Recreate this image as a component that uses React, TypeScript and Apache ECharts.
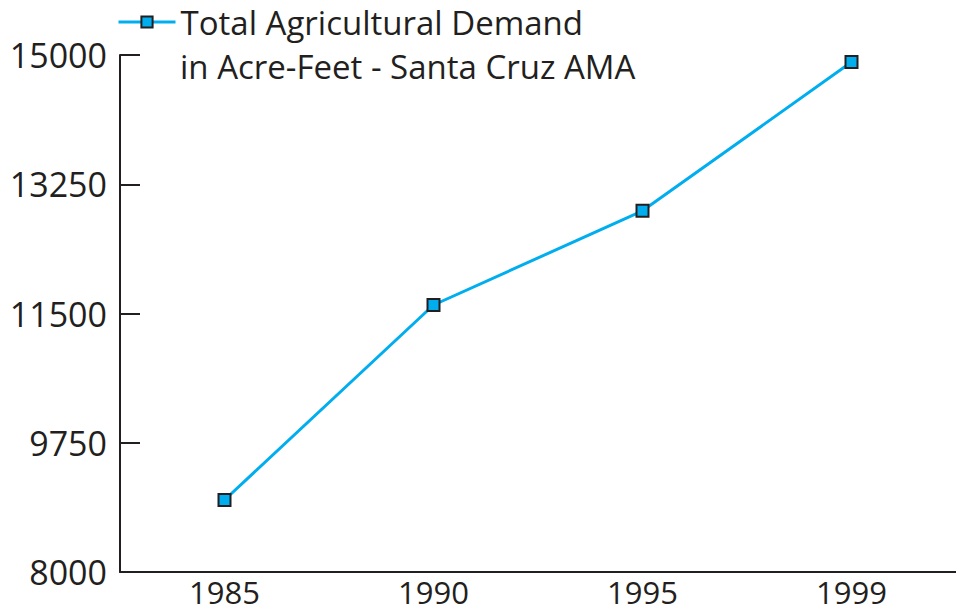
import React, { useEffect, useRef } from "react";
import * as echarts from "echarts";

const categories = ["1985", "1990", "1995", "1999"];
const demandValues = [8975, 11615, 12890, 14905];
const yTicks = [8000, 9750, 11500, 13250, 15000];
const seriesName = "Total Agricultural Demand";
const legendSecondLine = "in Acre-Feet - Santa Cruz AMA";

const FONT = "'Open Sans', sans-serif";
const TEXT_COLOR = "#231f20";
const LINE_COLOR = "#00aeef";

export default function App() {
  const ref = useRef<HTMLDivElement>(null);
  useEffect(() => {
    if (!ref.current) return;
    const chart = echarts.init(ref.current, undefined, { renderer: "svg" });
    chart.setOption({
      animation: false,
      backgroundColor: "#ffffff",
      textStyle: { fontFamily: FONT },
      legend: {
        left: 117,
        top: 3,
        padding: 0,
        itemWidth: 57,
        itemHeight: 14,
        itemGap: 5,
        data: [seriesName],
        lineStyle: { width: 3, color: LINE_COLOR },
        itemStyle: { color: LINE_COLOR, borderColor: TEXT_COLOR, borderWidth: 2 },
        textStyle: { fontFamily: FONT, fontSize: 33, color: TEXT_COLOR, lineHeight: 38 },
      },
      graphic: [
        {
          type: "text",
          left: 180,
          top: 50,
          style: {
            text: legendSecondLine,
            font: `33px ${FONT}`,
            fill: TEXT_COLOR,
          },
        },
      ],
      grid: { left: 120, width: 842, top: 55, bottom: 41, containLabel: false },
      xAxis: {
        type: "category",
        data: categories,
        boundaryGap: true,
        axisLine: { lineStyle: { color: TEXT_COLOR, width: 2 } },
        axisTick: { inside: true, length: 12, lineStyle: { color: TEXT_COLOR, width: 2 } },
        axisLabel: { color: TEXT_COLOR, fontSize: 31, fontFamily: FONT, margin: 5, lineHeight: 30 },
        splitLine: { show: false },
      },
      yAxis: {
        type: "value",
        min: 8000,
        max: 15000,
        axisLine: { show: true, lineStyle: { color: TEXT_COLOR, width: 2 } },
        axisTick: {
          show: true,
          inside: true,
          length: 20,
          customValues: yTicks,
          lineStyle: { color: TEXT_COLOR, width: 2 },
        },
        axisLabel: {
          color: TEXT_COLOR,
          fontSize: 34,
          fontFamily: FONT,
          margin: 13,
          customValues: yTicks,
          formatter: (v: number) => String(v),
        },
        splitLine: { show: false },
      },
      series: [
        {
          name: seriesName,
          type: "line",
          data: demandValues,
          symbol: "rect",
          symbolSize: 12,
          lineStyle: { color: LINE_COLOR, width: 3 },
          itemStyle: { color: LINE_COLOR, borderColor: TEXT_COLOR, borderWidth: 2 },
        },
      ],
    });
    return () => chart.dispose();
  }, []);
  return <div ref={ref} style={{ width: 956, height: 613, position: "absolute", left: 0, top: 0 }} />;
}
